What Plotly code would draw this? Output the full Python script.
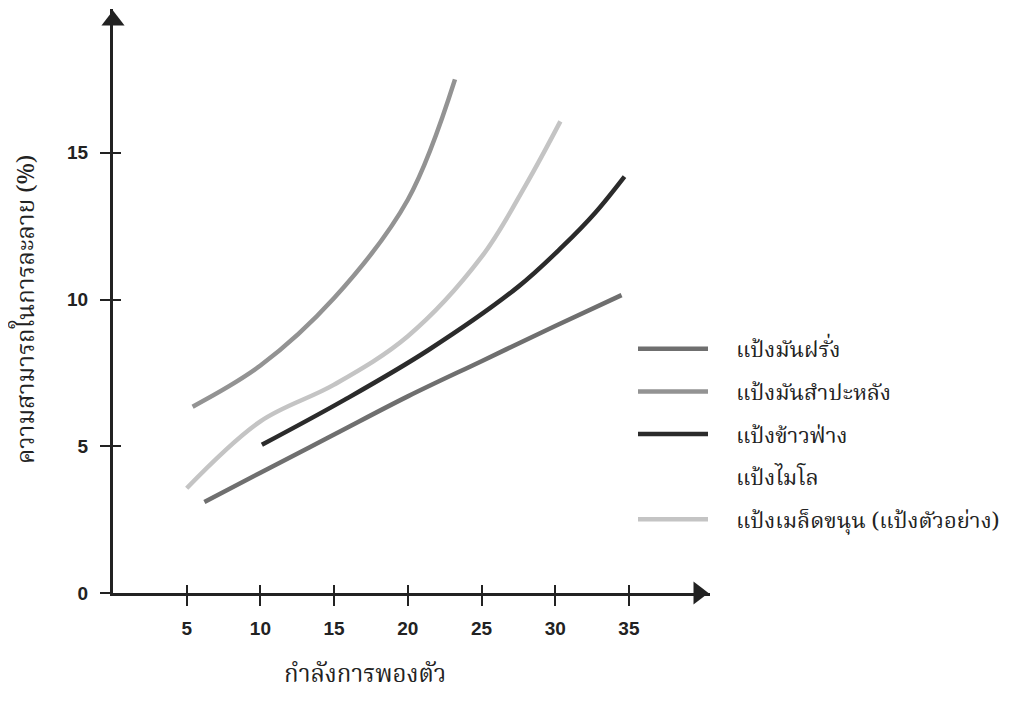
import plotly.graph_objects as go

# ---- data ----
series_names = ["แป้งมันฝรั่ง", "แป้งมันสำปะหลัง", "แป้งข้าวฟ่าง", "แป้งไมโล", "แป้งเมล็ดขนุน (แป้งตัวอย่าง)"]

potato_x = [6.2, 10, 15, 20, 25, 30, 34.5]
potato_y = [3.1, 4.1, 5.4, 6.7, 7.9, 9.1, 10.15]

tapioca_x = [5.4, 10, 15, 20, 23.2]
tapioca_y = [6.35, 7.75, 10.05, 13.4, 17.5]

sorghum_x = [10.1, 15.7, 21.4, 27.5, 30.5, 32.7, 34.7]
sorghum_y = [5.05, 6.58, 8.28, 10.44, 11.81, 12.95, 14.19]

milo_x = [None]
milo_y = [None]

jackfruit_x = [5.0, 10.0, 15.0, 20.0, 25.0, 28.0, 30.35]
jackfruit_y = [3.57, 5.85, 7.1, 8.75, 11.45, 13.9, 16.07]

x_ticks = [5, 10, 15, 20, 25, 30, 35]
y_ticks = [0, 5, 10, 15]

x_title = "กำลังการพองตัว"
y_title = "ความสามารถในการละลาย (%)"

X_MAX = 40.5
Y_MAX = 19.9

colors = ["#6f6f6f", "#939393", "#2b2b2b", "#ffffff", "#c4c4c4"]

THAI = "Noto Serif Thai, Norasi, Kinnari, Noto Sans Thai, Loma, Garuda, serif"
NUM = "Liberation Sans, Arial, sans-serif"
INK = "#222222"

# the page body adds an 8px margin, so the figure is drawn 8px smaller and offset
OFF = 8
W, H = 1023 - 2 * OFF, 706 - 2 * OFF
# plot-area placement in page pixels
PX_L, PX_R = 113 - OFF, 710 - OFF
PX_T, PX_B = 9 - OFF, 593 - OFF

fig = go.Figure()
data = [(potato_x, potato_y), (tapioca_x, tapioca_y), (sorghum_x, sorghum_y),
        (milo_x, milo_y), (jackfruit_x, jackfruit_y)]
for i, (name, (xs, ys)) in enumerate(zip(series_names, data)):
    fig.add_trace(go.Scatter(
        x=xs, y=ys, name="\u00a0\u00a0\u00a0\u00a0" + name, mode="lines",
        line=dict(color=colors[i], width=4.5, shape="spline", smoothing=1.0),
        legendgroup=str(i),
    ))

# arrow heads at axis ends
x_px_per_unit = (PX_R - PX_L) / X_MAX
y_px_per_unit = (PX_B - PX_T) / Y_MAX
fig.add_trace(go.Scatter(x=[X_MAX - 11.5 / x_px_per_unit], y=[0], mode="markers", showlegend=False,
                         marker=dict(symbol="triangle-right", size=20, color=INK),
                         cliponaxis=False, hoverinfo="skip"))
fig.add_trace(go.Scatter(x=[0], y=[Y_MAX - 11.5 / y_px_per_unit], mode="markers", showlegend=False,
                         marker=dict(symbol="triangle-up", size=20, color=INK),
                         cliponaxis=False, hoverinfo="skip"))

axis_common = dict(showgrid=False, zeroline=False, automargin=False)
xdom = [PX_L / W, PX_R / W]
ydom = [1 - PX_B / H, 1 - PX_T / H]
fig.update_layout(
    width=W, height=H,
    margin=dict(l=0, r=0, t=0, b=0),
    paper_bgcolor="white", plot_bgcolor="white",
    xaxis=dict(domain=xdom, range=[0, X_MAX], tickvals=x_ticks, ticks="outside", ticklen=10,
               tickwidth=2, tickcolor=INK, showline=True, linewidth=3, linecolor=INK,
               tickfont=dict(family=NUM, size=19, color=INK, weight="bold"),
               ticklabelstandoff=6, **axis_common),
    yaxis=dict(domain=ydom, range=[0, Y_MAX], tickvals=y_ticks, ticks="outside", ticklen=10,
               tickwidth=2, tickcolor=INK, showline=True, linewidth=3, linecolor=INK,
               tickfont=dict(family=NUM, size=19, color=INK, weight="bold"),
               ticklabelstandoff=8, **axis_common),
    xaxis2=dict(domain=xdom, range=[0, X_MAX], overlaying="x", tickvals=x_ticks, ticks="inside",
                ticklen=8, tickwidth=2, tickcolor=INK, showticklabels=False, **axis_common),
    yaxis2=dict(domain=ydom, range=[0, Y_MAX], overlaying="y", tickvals=y_ticks, ticks="inside",
                ticklen=8, tickwidth=2, tickcolor=INK, showticklabels=False, **axis_common),
    legend=dict(x=(633 - OFF) / W, y=1 - (328 - OFF) / H, xanchor="left", yanchor="top",
                itemwidth=70, font=dict(family=THAI, size=22, color=INK), tracegroupgap=11,
                bgcolor="rgba(0,0,0,0)"),
    showlegend=True,
)
# dummy trace to activate secondary axes
fig.add_trace(go.Scatter(x=[None], y=[None], xaxis="x2", yaxis="y2", showlegend=False))

fig.add_annotation(text=x_title, xref="paper", yref="paper", x=(365 - OFF) / W,
                   y=1 - (675 - OFF) / H, xanchor="center", yanchor="middle", showarrow=False,
                   font=dict(family=THAI, size=24, color=INK))
fig.add_annotation(text=y_title, xref="paper", yref="paper", x=(27 - OFF) / W,
                   y=1 - (310 - OFF) / H, xanchor="center", yanchor="middle", showarrow=False,
                   textangle=-90, font=dict(family=THAI, size=24, color=INK))

fig.write_html("out.html")
